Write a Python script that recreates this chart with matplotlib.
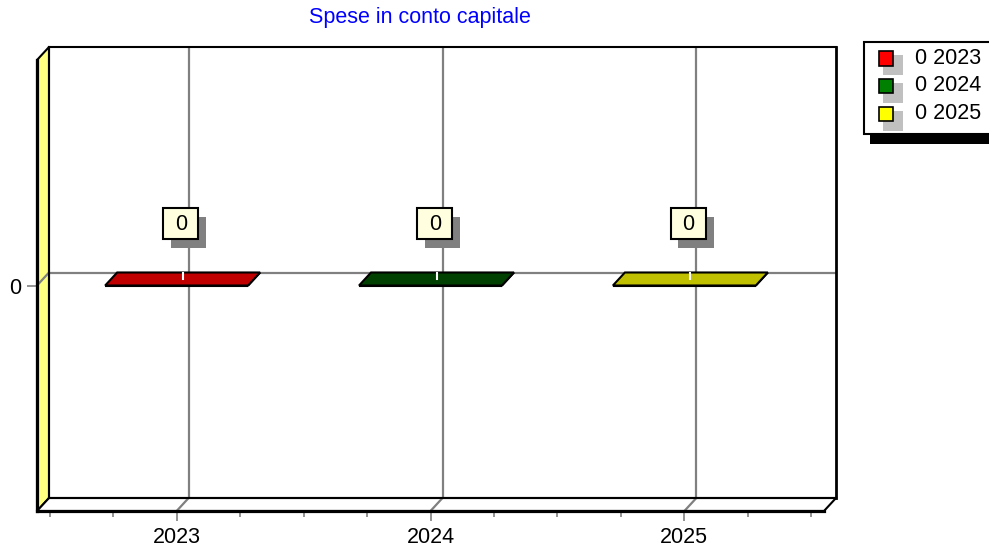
import numpy as np
import matplotlib
matplotlib.use('Agg')
import matplotlib.pyplot as plt
from matplotlib import transforms
from matplotlib.patches import Polygon, Rectangle

# data
years = ['2023', '2024', '2025']
values = [0, 0, 0]
bar_colors = ['#C00000', '#004000', '#C0C000']
legend_colors = ['#FF0000', '#008000', '#FFFF00']
title = 'Spese in conto capitale'

plt.rcParams['font.family'] = ['Liberation Sans', 'DejaVu Sans']
FS = 15.5

W, H = 989, 556
fig = plt.figure(figsize=(W / 100, H / 100), dpi=100)

# back wall box in pixels and the 3d depth
L, T, R, B = 49, 47, 836, 498
DX, DY = 12, 13

ax = fig.add_axes([L / W, 1 - B / H, (R - L) / W, (B - T) / H])
x = np.arange(len(years))
ax.set_xlim(-0.55, len(years) - 0.45)
ax.set_ylim(-1, 1)
ax.set_xticks(x)
ax.set_yticks([0])
ax.tick_params(length=0, labelbottom=False, labelleft=False)
ax.grid(True, color='#808080', lw=1.6)
ax.set_axisbelow(True)
for s in ax.spines.values():
    s.set_color('black')
    s.set_linewidth(1.5)
ax.spines['right'].set_linewidth(2)

# depth offset in data units
p = ax.transData.transform((0, 0))
ox, oy = ax.transData.inverted().transform(p + np.array([-DX, -DY]))


def front(px, py):
    return (px + ox, py + oy)


x0, x1 = ax.get_xlim()
y0, y1 = ax.get_ylim()

# left wall and floor
ax.add_patch(Polygon([(x0, y0), (x0, y1), front(x0, y1), front(x0, y0)],
                     closed=True, fc='#FFFF80', ec='black', lw=1.5,
                     clip_on=False, zorder=0.6))
ax.add_patch(Polygon([(x0, y0), (x1, y0), front(x1, y0), front(x0, y0)],
                     closed=True, fc='white', ec='black', lw=1.5,
                     clip_on=False, zorder=0.6))

# grid lines running over the wall and floor
for xi in x:
    fx, fy = front(xi, y0)
    ax.plot([xi, fx], [y0, fy], color='#808080', lw=1.6, clip_on=False, zorder=0.7)
fx, fy = front(x0, 0)
ax.plot([x0, fx], [0, fy], color='#808080', lw=1.6, clip_on=False, zorder=0.7)

# bars (flat, all values are zero)
w = 0.563
for xi, v, c in zip(x, values, bar_colors):
    side = [(xi + w / 2, 0), (xi + w / 2, v), front(xi + w / 2, v), front(xi + w / 2, 0)]
    face = [front(xi - w / 2, 0), front(xi + w / 2, 0), front(xi + w / 2, v), front(xi - w / 2, v)]
    top = [(xi - w / 2, v), (xi + w / 2, v), front(xi + w / 2, v), front(xi - w / 2, v)]
    for poly in (side, face, top):
        ax.add_patch(Polygon(poly, closed=True, fc=c, ec='black', lw=1.5,
                             joinstyle='miter', clip_on=False, zorder=2))
    mx = xi + ox / 2
    ax.plot([mx, mx], [v, v + oy / 2], color='white', lw=1.5, zorder=2.5)

    # value label box with shadow
    anchor = fig.dpi_scale_trans + transforms.ScaledTranslation(xi, v, ax.transData)
    ax.add_patch(Rectangle((-0.18, 0.247), 0.353, 0.31, fc='#808080', ec='none',
                           transform=anchor, clip_on=False, zorder=3))
    ax.add_patch(Rectangle((-0.255, 0.332), 0.353, 0.31, fc='#FFFFE0', ec='black',
                           lw=1.5, transform=anchor, clip_on=False, zorder=3.1))
    ax.text(-0.078, 0.475, str(v), transform=anchor, ha='center', va='center',
            fontsize=FS, color='black', zorder=3.2)

# front axes carries the front edges, ticks and labels
fax = fig.add_axes([(L - DX) / W, 1 - (B + DY) / H, (R - L) / W, (B - T) / H])
fax.set_xlim(ax.get_xlim())
fax.set_ylim(ax.get_ylim())
fax.patch.set_visible(False)
fax.spines['top'].set_visible(False)
fax.spines['right'].set_visible(False)
for k in ('bottom', 'left'):
    fax.spines[k].set_color('black')
    fax.spines[k].set_linewidth(2.3)
fax.set_xticks(x, years)
fax.set_xticks(np.arange(-0.5, len(years) - 0.4, 0.25), minor=True)
fax.set_yticks([0], ['0'])
fax.tick_params(which='major', direction='out', color='#808080', length=7.5,
                width=1.2, labelsize=FS, pad=4)
fax.tick_params(which='minor', direction='out', color='#808080', length=4, width=1.2)
fax.tick_params(axis='y', which='minor', left=False)

# title
fig.text(420 / W, 1 - 17 / H, title, ha='center', va='center', color='#0000FF', fontsize=FS)


def fr(px, py, pw, ph):
    return (px / W, 1 - (py + ph) / H), pw / W, ph / H


# legend with shadow
xy, fw, fh = fr(870, 52, 140, 92)
fig.add_artist(Rectangle(xy, fw, fh, transform=fig.transFigure, fc='black', ec='none'))
xy, fw, fh = fr(864, 42, 140, 92)
fig.add_artist(Rectangle(xy, fw, fh, transform=fig.transFigure, fc='white', ec='black', lw=1.5))
for i, (yr, v, c) in enumerate(zip(years, values, legend_colors)):
    cy = 58 + 27.8 * i
    xy, fw, fh = fr(883, cy - 3, 20, 20)
    fig.add_artist(Rectangle(xy, fw, fh, transform=fig.transFigure, fc='#C0C0C0', ec='none'))
    xy, fw, fh = fr(878.5, cy - 7, 14.5, 14.5)
    fig.add_artist(Rectangle(xy, fw, fh, transform=fig.transFigure, fc=c, ec='black', lw=1.2))
    fig.text(915 / W, 1 - cy / H, f'{v} {yr}', ha='left', va='center', fontsize=FS)

fig.savefig('out.png', dpi=100)
